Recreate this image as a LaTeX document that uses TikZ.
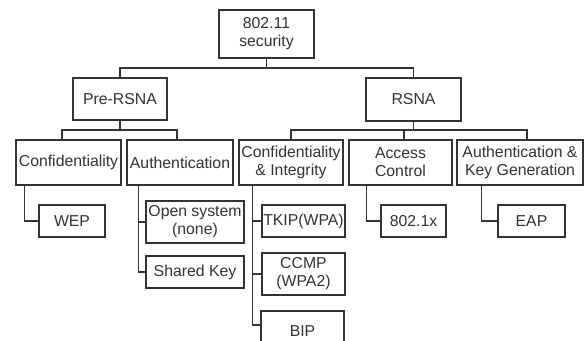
\documentclass[tikz,border=0pt]{standalone}
\usepackage{fontspec}
\setmainfont{Liberation Sans}
\begin{document}
\begin{tikzpicture}[x=1pt,y=-1pt,
  box/.style={draw=black!80, line width=1.4pt, inner sep=0pt, align=center,
    font=\fontsize{15.8}{18}\selectfont, text=black!80},
  conn/.style={draw=black!80, line width=1.4pt}]
\useasboundingbox (0,0) rectangle (586,340);
\clip (0,0) rectangle (586,340);
\fill[white] (0,0) rectangle (586,340);
% level 0
\node[box, minimum width=95, minimum height=48] (top) at (266.5,34) {802.11\\security};
% level 1
\node[box, minimum width=94, minimum height=42] (pre) at (120,99) {Pre-RSNA};
\node[box, minimum width=95, minimum height=43] (rsna) at (413.5,99.5) {RSNA};
% level 2
\node[box, minimum width=105, minimum height=45] (conf) at (68.5,162.5) {Confidentiality};
\node[box, minimum width=106, minimum height=45] (auth) at (180,162.5) {Authentication};
\node[box, minimum width=104, minimum height=45] (ci) at (291,162.5) {Confidentiality\\\& Integrity};
\node[box, minimum width=103, minimum height=45] (ac) at (400.5,162.5) {Access\\Control};
\node[box, minimum width=126, minimum height=45] (akg) at (520,162.5) {Authentication \&\\Key Generation};
% level 3
\node[box, minimum width=66, minimum height=32] (wep) at (72,221) {WEP};
\node[box, minimum width=98, minimum height=42] (open) at (195,222) {Open system\\(none)};
\node[box, minimum width=98, minimum height=32] (shared) at (195,272) {Shared Key};
\node[box, minimum width=83, minimum height=32] (tkip) at (303.5,221) {TKIP(WPA)};
\node[box, minimum width=83, minimum height=42] (ccmp) at (303.5,274) {CCMP\\(WPA2)};
\node[box, minimum width=83, minimum height=40] (bip) at (302.5,331) {BIP};
\node[box, minimum width=65, minimum height=32] (dot1x) at (413.5,221) {802.1x};
\node[box, minimum width=67, minimum height=32] (eap) at (531.5,221) {EAP};
% buses
\coordinate (b0) at (266.5,68);
\coordinate (b1) at (120,130);
\coordinate (b2) at (413.5,130);
\draw[conn] (top.south) -- (b0);
\draw[conn] (pre.north) |- (b0) -| (rsna.north);
\draw[conn] (pre.south) -- (b1);
\draw[conn] ([xshift=-6.5pt]conf.north) |- (b1) -| ([xshift=-3pt]auth.north);
\draw[conn] (rsna.south) -- (b2);
\draw[conn] (ci.north) |- (b2) -| ([xshift=7pt]akg.north);
\draw[conn] ([xshift=3.5pt]ac.north) -- ([xshift=3.5pt]ac.north |- b2);
% side connectors
\draw[conn] ([xshift=9pt]conf.south west) |- (wep.west);
\draw[conn] ([xshift=12pt]auth.south west) |- (open.west);
\draw[conn] ([xshift=12pt]auth.south west) |- (shared.west);
\draw[conn] ([xshift=14pt]ci.south west) |- (tkip.west);
\draw[conn] ([xshift=14pt]ci.south west) |- (ccmp.west);
\draw[conn] ([xshift=14pt]ci.south west) |- ([yshift=6pt]bip.west);
\draw[conn] ([xshift=18pt]ac.south west) |- (dot1x.west);
\draw[conn] ([xshift=25pt]akg.south west) |- (eap.west);
\end{tikzpicture}
\end{document}
